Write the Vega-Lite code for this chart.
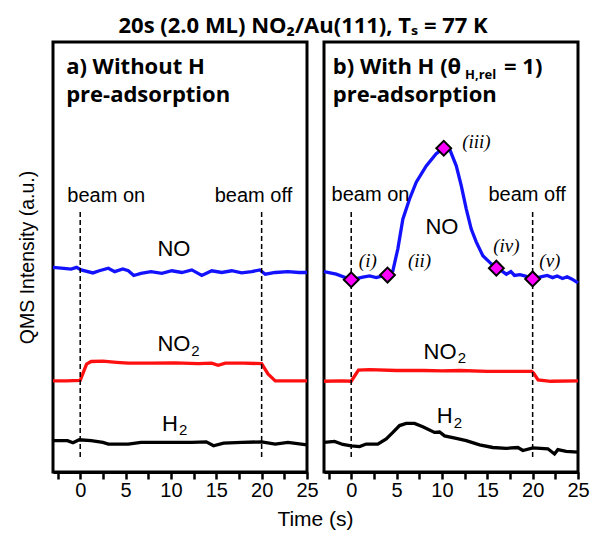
{
  "$schema": "https://vega.github.io/schema/vega-lite/v6.json",
  "padding": {"left": 15, "top": 14, "right": 0, "bottom": 0},
  "background": "white",
  "title": {"text": "20s (2.0 ML) NO₂/Au(111), Tₛ = 77 K", "font": "Open Sans", "fontSize": 22, "fontWeight": "bold", "color": "black", "anchor": "middle", "offset": 3},
  "spacing": 17,
  "bounds": "flush",
  "hconcat": [
    {
      "width": 254,
      "height": 430,
      "resolve": {"axis": {"x": "independent"}},
      "layer": [
        {
          "data": {"name": "curves"},
          "transform": [{"filter": "datum.panel === 'a'"}],
          "mark": {"type": "line", "strokeWidth": 3.3},
          "encoding": {
            "x": {"field": "t", "type": "quantitative", "scale": {"domain": [-3, 25], "nice": false, "zero": false}, "axis": {"values": [0, 5, 10, 15, 20, 25], "format": "d", "title": "Time (s)", "titleX": 262, "titleAlign": "center"}},
            "y": {"field": "v", "type": "quantitative", "scale": {"domain": [0, 100], "nice": false, "zero": false}, "axis": {"title": "QMS Intensity (a.u.)", "labels": false, "ticks": false, "domain": false, "grid": false, "titleFont": "Liberation Sans", "titleFontSize": 19.5, "titleFontWeight": "normal", "titleColor": "black", "titlePadding": 16}},
            "color": {"field": "species", "type": "nominal", "scale": {"domain": ["NO", "NO2", "H2"], "range": ["#1212ff", "#ff1010", "#000000"]}, "legend": null}
          }
        },
        {
          "data": {"name": "beams"},
          "mark": {"type": "rule", "strokeDash": [5, 3], "strokeWidth": 1.5, "color": "black"},
          "encoding": {
            "x": {"field": "t", "type": "quantitative", "axis": {"orient": "bottom", "values": [-2.5, 2.5, 7.5, 12.5, 17.5, 22.5], "labels": false, "domain": false, "title": null, "offset": 0}},
            "y": {"field": "lo", "type": "quantitative"},
            "y2": {"field": "hi"}
          }
        },
        {
          "data": {"name": "labels"},
          "transform": [{"filter": "datum.panel === 'a' && datum.kind === 'beam'"}],
          "mark": {"type": "text", "font": "Liberation Sans", "fontSize": 20, "align": "center", "baseline": "alphabetic", "color": "black"},
          "encoding": {"x": {"field": "t", "type": "quantitative", "axis": null}, "y": {"field": "v", "type": "quantitative"}, "text": {"field": "text", "type": "nominal"}}
        },
        {
          "data": {"name": "labels"},
          "transform": [{"filter": "datum.panel === 'a' && datum.kind === 'species'"}],
          "mark": {"type": "text", "font": "Liberation Sans", "fontSize": 22, "align": "center", "baseline": "alphabetic", "color": "black"},
          "encoding": {"x": {"field": "t", "type": "quantitative", "axis": null}, "y": {"field": "v", "type": "quantitative"}, "text": {"field": "text", "type": "nominal"}}
        },
        {
          "data": {"name": "labels"},
          "transform": [{"filter": "datum.panel === 'a' && datum.kind === 'sub'"}],
          "mark": {"type": "text", "font": "Liberation Sans", "fontSize": 15, "align": "center", "baseline": "alphabetic", "color": "black"},
          "encoding": {"x": {"field": "t", "type": "quantitative", "axis": null}, "y": {"field": "v", "type": "quantitative"}, "text": {"field": "text", "type": "nominal"}}
        },
        {
          "data": {"name": "labels"},
          "transform": [{"filter": "datum.panel === 'a' && datum.kind === 'header'"}],
          "mark": {"type": "text", "font": "Open Sans", "fontWeight": "bold", "fontSize": 22, "align": "left", "baseline": "alphabetic", "color": "black"},
          "encoding": {"x": {"field": "t", "type": "quantitative", "axis": null}, "y": {"field": "v", "type": "quantitative"}, "text": {"field": "text", "type": "nominal"}}
        }
      ]
    },
    {
      "width": 254,
      "height": 430,
      "resolve": {"axis": {"x": "independent"}},
      "layer": [
        {
          "data": {"name": "curves"},
          "transform": [{"filter": "datum.panel === 'b'"}],
          "mark": {"type": "line", "strokeWidth": 3.3},
          "encoding": {
            "x": {"field": "t", "type": "quantitative", "scale": {"domain": [-3, 25], "nice": false, "zero": false}, "axis": {"values": [0, 5, 10, 15, 20, 25], "format": "d", "title": null}},
            "y": {"field": "v", "type": "quantitative", "scale": {"domain": [0, 100], "nice": false, "zero": false}, "axis": null},
            "color": {"field": "species", "type": "nominal", "scale": {"domain": ["NO", "NO2", "H2"], "range": ["#1212ff", "#ff1010", "#000000"]}, "legend": null}
          }
        },
        {
          "data": {"name": "beams"},
          "mark": {"type": "rule", "strokeDash": [5, 3], "strokeWidth": 1.5, "color": "black"},
          "encoding": {
            "x": {"field": "t", "type": "quantitative", "axis": {"orient": "bottom", "values": [-2.5, 2.5, 7.5, 12.5, 17.5, 22.5], "labels": false, "domain": false, "title": null, "offset": 0}},
            "y": {"field": "lo", "type": "quantitative"},
            "y2": {"field": "hi"}
          }
        },
        {
          "data": {"name": "markers"},
          "mark": {"type": "point", "shape": "diamond", "size": 220, "filled": true, "fill": "#ff00ff", "stroke": "black", "strokeWidth": 2, "opacity": 1},
          "encoding": {"x": {"field": "t", "type": "quantitative", "axis": null}, "y": {"field": "v", "type": "quantitative"}}
        },
        {
          "data": {"name": "labels"},
          "transform": [{"filter": "datum.panel === 'b' && datum.kind === 'roman'"}],
          "mark": {"type": "text", "font": "Liberation Serif", "fontStyle": "italic", "fontSize": 19, "align": "center", "baseline": "middle", "color": "black"},
          "encoding": {"x": {"field": "t", "type": "quantitative", "axis": null}, "y": {"field": "v", "type": "quantitative"}, "text": {"field": "text", "type": "nominal"}}
        },
        {
          "data": {"name": "labels"},
          "transform": [{"filter": "datum.panel === 'b' && datum.kind === 'beam'"}],
          "mark": {"type": "text", "font": "Liberation Sans", "fontSize": 20, "align": "center", "baseline": "alphabetic", "color": "black"},
          "encoding": {"x": {"field": "t", "type": "quantitative", "axis": null}, "y": {"field": "v", "type": "quantitative"}, "text": {"field": "text", "type": "nominal"}}
        },
        {
          "data": {"name": "labels"},
          "transform": [{"filter": "datum.panel === 'b' && datum.kind === 'species'"}],
          "mark": {"type": "text", "font": "Liberation Sans", "fontSize": 22, "align": "center", "baseline": "alphabetic", "color": "black"},
          "encoding": {"x": {"field": "t", "type": "quantitative", "axis": null}, "y": {"field": "v", "type": "quantitative"}, "text": {"field": "text", "type": "nominal"}}
        },
        {
          "data": {"name": "labels"},
          "transform": [{"filter": "datum.panel === 'b' && datum.kind === 'sub'"}],
          "mark": {"type": "text", "font": "Liberation Sans", "fontSize": 15, "align": "center", "baseline": "alphabetic", "color": "black"},
          "encoding": {"x": {"field": "t", "type": "quantitative", "axis": null}, "y": {"field": "v", "type": "quantitative"}, "text": {"field": "text", "type": "nominal"}}
        },
        {
          "data": {"name": "labels"},
          "transform": [{"filter": "datum.panel === 'b' && datum.kind === 'header'"}],
          "mark": {"type": "text", "font": "Open Sans", "fontWeight": "bold", "fontSize": 22, "align": "left", "baseline": "alphabetic", "color": "black"},
          "encoding": {"x": {"field": "t", "type": "quantitative", "axis": null}, "y": {"field": "v", "type": "quantitative"}, "text": {"field": "text", "type": "nominal"}}
        },
        {
          "data": {"name": "labels"},
          "transform": [{"filter": "datum.panel === 'b' && datum.kind === 'headsub'"}],
          "mark": {"type": "text", "font": "Open Sans", "fontWeight": "bold", "fontSize": 13, "align": "left", "baseline": "alphabetic", "color": "black"},
          "encoding": {"x": {"field": "t", "type": "quantitative", "axis": null}, "y": {"field": "v", "type": "quantitative"}, "text": {"field": "text", "type": "nominal"}}
        }
      ]
    }
  ],
  "datasets": {
    "beams": [{"t": 0, "lo": 3.5, "hi": 61}, {"t": 20, "lo": 3.5, "hi": 61}],
    "markers": [
      {"t": 0, "v": 44.7},
      {"t": 4.0, "v": 45.8},
      {"t": 10.2, "v": 75.3},
      {"t": 16.0, "v": 47.4},
      {"t": 20.0, "v": 44.9}
    ],
    "labels": [
      {"panel": "a", "kind": "beam", "text": "beam on", "t": 2.87, "v": 62.8},
      {"panel": "a", "kind": "beam", "text": "beam off", "t": 19.1, "v": 62.8},
      {"panel": "b", "kind": "beam", "text": "beam on", "t": 2.13, "v": 63.1},
      {"panel": "b", "kind": "beam", "text": "beam off", "t": 19.4, "v": 63.1},
      {"panel": "a", "kind": "species", "text": "NO", "t": 10.33, "v": 50.3},
      {"panel": "a", "kind": "species", "text": "NO", "t": 10.33, "v": 28.2},
      {"panel": "a", "kind": "species", "text": "H", "t": 9.9, "v": 9.6},
      {"panel": "b", "kind": "species", "text": "NO", "t": 10.0, "v": 55.3},
      {"panel": "b", "kind": "species", "text": "NO", "t": 9.8, "v": 26.3},
      {"panel": "b", "kind": "species", "text": "H", "t": 10.3, "v": 11.5},
      {"panel": "a", "kind": "sub", "text": "2", "t": 12.7, "v": 27.0},
      {"panel": "a", "kind": "sub", "text": "2", "t": 11.35, "v": 8.6},
      {"panel": "b", "kind": "sub", "text": "2", "t": 12.2, "v": 25.3},
      {"panel": "b", "kind": "sub", "text": "2", "t": 11.75, "v": 10.2},
      {"panel": "a", "kind": "header", "text": "a) Without H", "t": -1.55, "v": 92.56},
      {"panel": "a", "kind": "header", "text": "pre-adsorption", "t": -1.55, "v": 86.0},
      {"panel": "b", "kind": "header", "text": "b) With H (θ", "t": -2.03, "v": 92.56},
      {"panel": "b", "kind": "headsub", "text": "H,rel", "t": 12.55, "v": 91.4},
      {"panel": "b", "kind": "header", "text": "= 1)", "t": 16.85, "v": 92.56},
      {"panel": "b", "kind": "header", "text": "pre-adsorption", "t": -2.03, "v": 86.0},
      {"panel": "b", "kind": "roman", "text": "(i)", "t": 1.83, "v": 49.1},
      {"panel": "b", "kind": "roman", "text": "(ii)", "t": 7.53, "v": 49.1},
      {"panel": "b", "kind": "roman", "text": "(iii)", "t": 13.8, "v": 76.7},
      {"panel": "b", "kind": "roman", "text": "(iv)", "t": 17.1, "v": 52.6},
      {"panel": "b", "kind": "roman", "text": "(v)", "t": 21.9, "v": 49.1}
    ],
    "curves": [
      {"panel": "a", "species": "NO", "t": -3, "v": 47.6},
      {"panel": "a", "species": "NO", "t": -2.1, "v": 47.4},
      {"panel": "a", "species": "NO", "t": -1.0, "v": 47.2},
      {"panel": "a", "species": "NO", "t": -0.4, "v": 47.6},
      {"panel": "a", "species": "NO", "t": 0.1, "v": 47.0},
      {"panel": "a", "species": "NO", "t": 1.4, "v": 46.3},
      {"panel": "a", "species": "NO", "t": 2.1, "v": 46.8},
      {"panel": "a", "species": "NO", "t": 3.1, "v": 47.4},
      {"panel": "a", "species": "NO", "t": 3.8, "v": 46.6},
      {"panel": "a", "species": "NO", "t": 4.7, "v": 47.2},
      {"panel": "a", "species": "NO", "t": 5.3, "v": 46.8},
      {"panel": "a", "species": "NO", "t": 5.9, "v": 45.7},
      {"panel": "a", "species": "NO", "t": 6.7, "v": 46.2},
      {"panel": "a", "species": "NO", "t": 7.8, "v": 46.6},
      {"panel": "a", "species": "NO", "t": 9.0, "v": 46.2},
      {"panel": "a", "species": "NO", "t": 10.1, "v": 46.8},
      {"panel": "a", "species": "NO", "t": 11.2, "v": 46.4},
      {"panel": "a", "species": "NO", "t": 12.3, "v": 47.0},
      {"panel": "a", "species": "NO", "t": 13.4, "v": 45.7},
      {"panel": "a", "species": "NO", "t": 14.5, "v": 46.8},
      {"panel": "a", "species": "NO", "t": 15.6, "v": 46.4},
      {"panel": "a", "species": "NO", "t": 16.7, "v": 46.8},
      {"panel": "a", "species": "NO", "t": 17.8, "v": 46.3},
      {"panel": "a", "species": "NO", "t": 18.9, "v": 46.6},
      {"panel": "a", "species": "NO", "t": 19.8, "v": 47.0},
      {"panel": "a", "species": "NO", "t": 20.4, "v": 46.0},
      {"panel": "a", "species": "NO", "t": 21.5, "v": 46.4},
      {"panel": "a", "species": "NO", "t": 22.9, "v": 46.6},
      {"panel": "a", "species": "NO", "t": 24.1, "v": 46.4},
      {"panel": "a", "species": "NO", "t": 25, "v": 46.4},
      {"panel": "a", "species": "NO2", "t": -3, "v": 21.2},
      {"panel": "a", "species": "NO2", "t": -1.5, "v": 21.2},
      {"panel": "a", "species": "NO2", "t": 0, "v": 21.3},
      {"panel": "a", "species": "NO2", "t": 0.7, "v": 25.1},
      {"panel": "a", "species": "NO2", "t": 1.2, "v": 25.7},
      {"panel": "a", "species": "NO2", "t": 2.5, "v": 25.8},
      {"panel": "a", "species": "NO2", "t": 4.0, "v": 25.5},
      {"panel": "a", "species": "NO2", "t": 5.3, "v": 25.3},
      {"panel": "a", "species": "NO2", "t": 7.8, "v": 25.3},
      {"panel": "a", "species": "NO2", "t": 10.4, "v": 25.4},
      {"panel": "a", "species": "NO2", "t": 13.0, "v": 25.2},
      {"panel": "a", "species": "NO2", "t": 14.5, "v": 25.3},
      {"panel": "a", "species": "NO2", "t": 15.2, "v": 24.8},
      {"panel": "a", "species": "NO2", "t": 16.0, "v": 25.3},
      {"panel": "a", "species": "NO2", "t": 18.0, "v": 25.3},
      {"panel": "a", "species": "NO2", "t": 20.0, "v": 25.2},
      {"panel": "a", "species": "NO2", "t": 20.7, "v": 22.8},
      {"panel": "a", "species": "NO2", "t": 21.5, "v": 21.2},
      {"panel": "a", "species": "NO2", "t": 23.0, "v": 21.2},
      {"panel": "a", "species": "NO2", "t": 25, "v": 21.2},
      {"panel": "a", "species": "H2", "t": -3, "v": 7.3},
      {"panel": "a", "species": "H2", "t": -1.4, "v": 7.3},
      {"panel": "a", "species": "H2", "t": -0.8, "v": 6.8},
      {"panel": "a", "species": "H2", "t": -0.1, "v": 7.5},
      {"panel": "a", "species": "H2", "t": 1.2, "v": 7.3},
      {"panel": "a", "species": "H2", "t": 2.5, "v": 6.9},
      {"panel": "a", "species": "H2", "t": 3.1, "v": 6.5},
      {"panel": "a", "species": "H2", "t": 5.3, "v": 6.5},
      {"panel": "a", "species": "H2", "t": 6.7, "v": 6.9},
      {"panel": "a", "species": "H2", "t": 8.6, "v": 6.9},
      {"panel": "a", "species": "H2", "t": 10.4, "v": 6.9},
      {"panel": "a", "species": "H2", "t": 12.3, "v": 6.9},
      {"panel": "a", "species": "H2", "t": 13.9, "v": 7.0},
      {"panel": "a", "species": "H2", "t": 14.7, "v": 6.1},
      {"panel": "a", "species": "H2", "t": 15.8, "v": 6.7},
      {"panel": "a", "species": "H2", "t": 17.8, "v": 6.9},
      {"panel": "a", "species": "H2", "t": 20.0, "v": 7.0},
      {"panel": "a", "species": "H2", "t": 21.5, "v": 6.5},
      {"panel": "a", "species": "H2", "t": 22.9, "v": 6.9},
      {"panel": "a", "species": "H2", "t": 25, "v": 6.3},
      {"panel": "b", "species": "NO", "t": -3, "v": 46.6},
      {"panel": "b", "species": "NO", "t": -1.65, "v": 46.0},
      {"panel": "b", "species": "NO", "t": 0, "v": 44.7},
      {"panel": "b", "species": "NO", "t": 1.28, "v": 45.3},
      {"panel": "b", "species": "NO", "t": 2.02, "v": 45.6},
      {"panel": "b", "species": "NO", "t": 2.76, "v": 45.2},
      {"panel": "b", "species": "NO", "t": 3.48, "v": 45.6},
      {"panel": "b", "species": "NO", "t": 4.0, "v": 45.8},
      {"panel": "b", "species": "NO", "t": 4.59, "v": 46.8},
      {"panel": "b", "species": "NO", "t": 5.14, "v": 51.9},
      {"panel": "b", "species": "NO", "t": 5.69, "v": 58.8},
      {"panel": "b", "species": "NO", "t": 6.43, "v": 63.5},
      {"panel": "b", "species": "NO", "t": 7.17, "v": 67.4},
      {"panel": "b", "species": "NO", "t": 8.27, "v": 71.2},
      {"panel": "b", "species": "NO", "t": 9.37, "v": 74.0},
      {"panel": "b", "species": "NO", "t": 10.2, "v": 75.3},
      {"panel": "b", "species": "NO", "t": 10.9, "v": 74.8},
      {"panel": "b", "species": "NO", "t": 11.58, "v": 71.2},
      {"panel": "b", "species": "NO", "t": 12.13, "v": 66.6},
      {"panel": "b", "species": "NO", "t": 12.68, "v": 61.2},
      {"panel": "b", "species": "NO", "t": 13.23, "v": 56.5},
      {"panel": "b", "species": "NO", "t": 13.78, "v": 53.5},
      {"panel": "b", "species": "NO", "t": 14.51, "v": 50.3},
      {"panel": "b", "species": "NO", "t": 15.44, "v": 48.4},
      {"panel": "b", "species": "NO", "t": 16.0, "v": 47.4},
      {"panel": "b", "species": "NO", "t": 16.7, "v": 46.6},
      {"panel": "b", "species": "NO", "t": 17.1, "v": 46.0},
      {"panel": "b", "species": "NO", "t": 17.6, "v": 46.6},
      {"panel": "b", "species": "NO", "t": 18.0, "v": 45.7},
      {"panel": "b", "species": "NO", "t": 18.6, "v": 45.9},
      {"panel": "b", "species": "NO", "t": 19.3, "v": 45.5},
      {"panel": "b", "species": "NO", "t": 20.0, "v": 44.9},
      {"panel": "b", "species": "NO", "t": 20.9, "v": 45.4},
      {"panel": "b", "species": "NO", "t": 21.6, "v": 45.7},
      {"panel": "b", "species": "NO", "t": 22.2, "v": 45.2},
      {"panel": "b", "species": "NO", "t": 22.7, "v": 45.6},
      {"panel": "b", "species": "NO", "t": 23.3, "v": 45.0},
      {"panel": "b", "species": "NO", "t": 23.8, "v": 45.4},
      {"panel": "b", "species": "NO", "t": 24.3, "v": 44.9},
      {"panel": "b", "species": "NO", "t": 25, "v": 44.0},
      {"panel": "b", "species": "NO2", "t": -3, "v": 21.1},
      {"panel": "b", "species": "NO2", "t": -1, "v": 21.2},
      {"panel": "b", "species": "NO2", "t": 0, "v": 21.1},
      {"panel": "b", "species": "NO2", "t": 0.8, "v": 23.7},
      {"panel": "b", "species": "NO2", "t": 2, "v": 23.8},
      {"panel": "b", "species": "NO2", "t": 5, "v": 23.6},
      {"panel": "b", "species": "NO2", "t": 8, "v": 23.6},
      {"panel": "b", "species": "NO2", "t": 10, "v": 23.5},
      {"panel": "b", "species": "NO2", "t": 12, "v": 23.6},
      {"panel": "b", "species": "NO2", "t": 15, "v": 23.4},
      {"panel": "b", "species": "NO2", "t": 18, "v": 23.4},
      {"panel": "b", "species": "NO2", "t": 19.9, "v": 23.4},
      {"panel": "b", "species": "NO2", "t": 20.1, "v": 23.0},
      {"panel": "b", "species": "NO2", "t": 20.6, "v": 21.4},
      {"panel": "b", "species": "NO2", "t": 22, "v": 21.1},
      {"panel": "b", "species": "NO2", "t": 25, "v": 21.2},
      {"panel": "b", "species": "H2", "t": -3, "v": 6.9},
      {"panel": "b", "species": "H2", "t": -1.84, "v": 7.1},
      {"panel": "b", "species": "H2", "t": -0.93, "v": 6.4},
      {"panel": "b", "species": "H2", "t": 0, "v": 6.1},
      {"panel": "b", "species": "H2", "t": 0.92, "v": 5.9},
      {"panel": "b", "species": "H2", "t": 1.65, "v": 6.5},
      {"panel": "b", "species": "H2", "t": 2.93, "v": 6.5},
      {"panel": "b", "species": "H2", "t": 3.86, "v": 7.7},
      {"panel": "b", "species": "H2", "t": 4.59, "v": 9.2},
      {"panel": "b", "species": "H2", "t": 5.33, "v": 10.8},
      {"panel": "b", "species": "H2", "t": 6.06, "v": 11.3},
      {"panel": "b", "species": "H2", "t": 6.98, "v": 11.3},
      {"panel": "b", "species": "H2", "t": 7.89, "v": 10.5},
      {"panel": "b", "species": "H2", "t": 9.18, "v": 9.2},
      {"panel": "b", "species": "H2", "t": 9.74, "v": 9.3},
      {"panel": "b", "species": "H2", "t": 10.29, "v": 8.4},
      {"panel": "b", "species": "H2", "t": 11.58, "v": 7.8},
      {"panel": "b", "species": "H2", "t": 12.68, "v": 7.3},
      {"panel": "b", "species": "H2", "t": 14.15, "v": 6.3},
      {"panel": "b", "species": "H2", "t": 15.61, "v": 5.7},
      {"panel": "b", "species": "H2", "t": 17.09, "v": 5.5},
      {"panel": "b", "species": "H2", "t": 18.37, "v": 5.7},
      {"panel": "b", "species": "H2", "t": 18.92, "v": 5.0},
      {"panel": "b", "species": "H2", "t": 20.02, "v": 5.6},
      {"panel": "b", "species": "H2", "t": 21.68, "v": 5.4},
      {"panel": "b", "species": "H2", "t": 22.41, "v": 4.2},
      {"panel": "b", "species": "H2", "t": 22.78, "v": 5.2},
      {"panel": "b", "species": "H2", "t": 23.7, "v": 4.8},
      {"panel": "b", "species": "H2", "t": 25, "v": 4.6}
    ]
  },
  "config": {
    "view": {"stroke": "black", "strokeWidth": 3},
    "axisX": {
      "domain": true, "domainColor": "black", "domainWidth": 3,
      "ticks": true, "tickColor": "black", "tickWidth": 2.5, "tickSize": 7,
      "labelFont": "Liberation Sans", "labelFontSize": 20, "labelColor": "black", "labelPadding": 1,
      "labelFlush": false, "labelOverlap": false, "grid": false,
      "titleFont": "Liberation Sans", "titleFontSize": 21, "titleFontWeight": "normal", "titleColor": "black", "titlePadding": 8
    },
    "axisY": {"grid": false}
  }
}
